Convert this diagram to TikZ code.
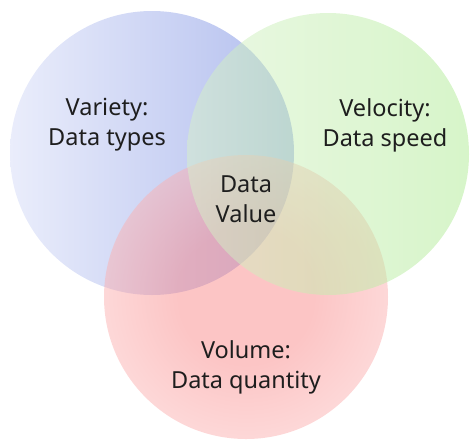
\documentclass[tikz,border=0pt]{standalone}
\usepackage{fontspec}
\setmainfont{Noto Sans}
\usepackage{xcolor}
\usepackage{tikz}
\definecolor{vblueA}{RGB}{234, 237, 251}
\definecolor{vblueB}{RGB}{178, 190, 238}
\definecolor{vgreenA}{RGB}{215, 241, 201}
\definecolor{vgreenB}{RGB}{175, 235, 148}
\definecolor{vredA}{RGB}{250, 140, 140}
\definecolor{vredB}{RGB}{252, 208, 208}
\definecolor{vtext}{RGB}{30, 30, 30}
\pgfdeclareradialshading{vredshade}{\pgfpoint{0bp}{0bp}}{color(0bp)=(vredA); color(12bp)=(vredA); color(36bp)=(vredB); color(50bp)=(vredB)}

\begin{document}
\begin{tikzpicture}[x=1pt, y=-1pt,
  vlabel/.style={font=\fontsize{23.5}{30}\selectfont, align=center, text=vtext, inner sep=0pt}]
\useasboundingbox (0,0) rectangle (471,440);
% Variety circle
\shade[left color=vblueA, right color=vblueB] (152,153) circle (142pt);
% Volume circle
\shade[shading=vredshade, fill opacity=0.5] (246,297) circle (142pt);
% Velocity circle
\shade[left color=vgreenA, right color=vgreenB, fill opacity=0.5] (328,154) circle (141pt);

% labels
\node[vlabel] (variety) at (107,125) {Variety:\\Data types};
\node[vlabel] (velocity) at (385,125) {Velocity:\\Data speed};
\node[vlabel] (value) at (246,199) {Data\\Value};
\node[vlabel] (volume) at (246,367) {Volume:\\Data quantity};
\end{tikzpicture}
\end{document}
